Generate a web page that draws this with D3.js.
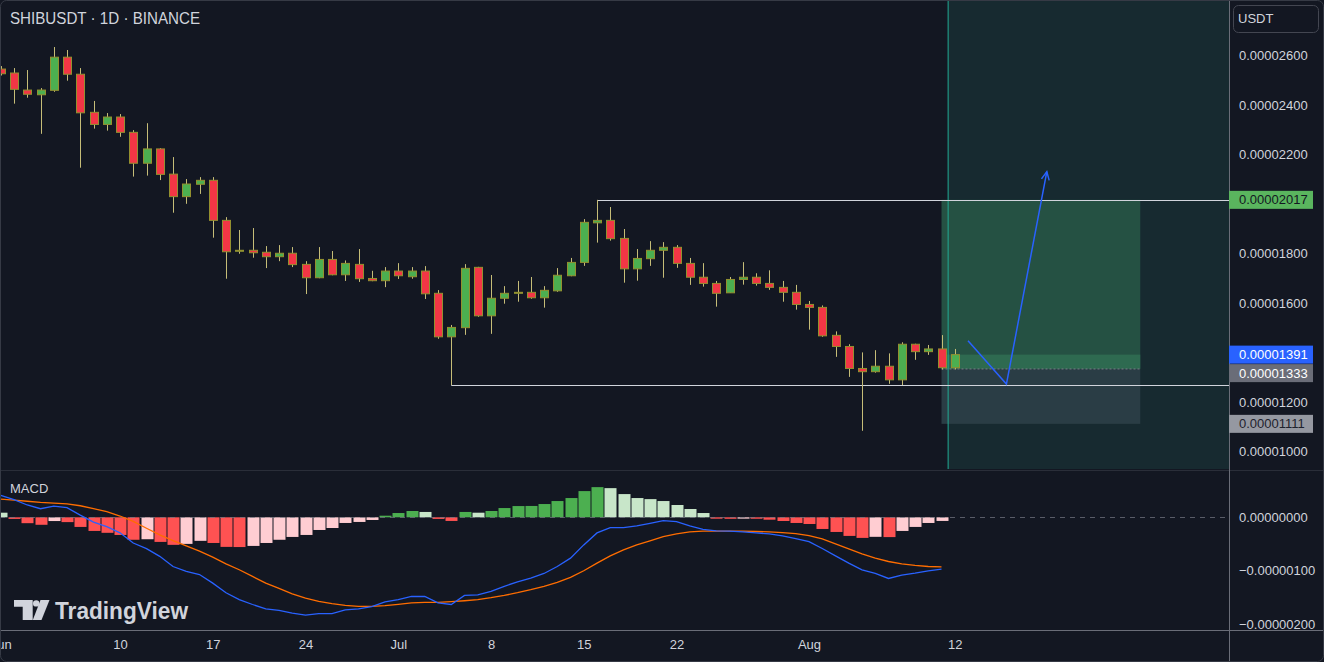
<!DOCTYPE html>
<html><head><meta charset="utf-8">
<script src="https://cdn.jsdelivr.net/npm/d3@7"></script>
<style>
html,body{margin:0;padding:0;background:#131722;overflow:hidden}
svg{display:block}
text{font-family:"Liberation Sans",Arial,sans-serif}
</style>
</head><body>
<svg id="chart" width="1324" height="662"></svg>
<script>
// ---------------- DATA (prices in millionths of USDT: 25.46 = 0.00002546) ----------------
const startDate = "2024-06-01";
const endDate = "2024-08-12";
const opens = [25.46,25.30,24.61,24.42,24.60,25.94,25.25,23.71,23.22,23.52,
  22.90,21.65,22.23,21.21,20.30,20.80,20.96,19.34,18.10,18.13,
  18.05,17.87,18.01,17.56,17.02,17.76,17.14,17.56,16.99,16.90,
  17.29,17.06,17.29,16.39,14.63,15.00,17.44,15.48,16.19,16.40,
  16.43,16.21,16.49,17.10,17.64,19.24,19.34,18.61,17.38,17.79,
  18.13,18.25,17.60,17.04,16.79,16.41,16.95,17.04,16.79,16.63,
  16.43,15.94,15.82,14.69,14.24,13.35,13.22,13.44,12.89,14.33,
  14.03,14.14,13.38];
const highs = [25.58,25.50,25.42,24.69,26.35,26.23,25.50,24.17,23.68,23.64,
  22.99,23.27,22.26,21.90,21.01,21.09,21.09,19.47,18.95,19.03,
  18.30,18.34,18.26,17.69,18.26,18.10,17.72,18.18,17.30,17.45,
  17.61,17.45,17.49,16.52,15.11,17.57,17.46,17.13,16.68,16.89,
  17.05,16.68,17.41,17.82,19.39,20.17,19.88,18.99,18.18,18.50,
  18.46,18.34,17.82,17.61,16.89,17.05,17.65,17.20,17.32,16.89,
  16.73,16.08,15.90,14.85,14.33,14.00,14.09,13.96,14.41,14.35,
  14.30,14.70,14.14];
const lows = [25.20,24.06,24.30,22.84,24.54,24.99,21.47,23.05,22.97,22.72,
  21.11,21.15,20.97,19.65,20.01,20.41,18.64,16.98,17.99,17.83,
  17.41,17.69,17.45,16.36,17.00,17.12,16.89,16.85,16.88,16.64,
  16.97,16.98,16.16,14.55,12.68,14.71,15.44,14.75,15.97,16.05,
  16.17,15.81,16.45,17.08,17.50,18.44,18.52,16.82,16.90,17.50,
  17.02,17.42,16.73,16.66,15.85,16.41,16.74,16.70,16.53,16.05,
  15.73,14.92,14.63,13.82,13.01,10.83,13.18,12.73,12.68,13.70,
  13.90,13.31,13.31];
const closes = [25.27,24.64,24.44,24.61,25.94,25.25,23.69,23.22,23.52,22.90,
  21.65,22.23,21.20,20.30,20.81,20.96,19.34,18.07,18.13,18.03,
  17.87,18.01,17.55,17.02,17.76,17.14,17.60,16.98,16.90,17.29,
  17.10,17.29,16.37,14.63,15.01,17.40,15.48,16.19,16.39,16.43,
  16.21,16.51,17.12,17.64,19.26,19.34,18.60,17.38,17.80,18.13,
  18.25,17.60,17.04,16.79,16.39,16.95,17.04,16.79,16.63,16.43,
  15.94,15.82,14.67,14.24,13.35,13.22,13.44,12.89,14.33,14.03,
  14.14,13.38,13.91];

// MACD (millionths), Jun 1 .. Aug 11
const macdLine = [0.41,0.33,0.23,0.16,0.21,0.18,0.04,-0.09,-0.175,-0.29,
  -0.48,-0.585,-0.73,-0.92,-1.01,-1.07,-1.23,-1.41,-1.54,-1.63,
  -1.71,-1.74,-1.79,-1.83,-1.80,-1.80,-1.73,-1.71,-1.67,-1.58,
  -1.54,-1.48,-1.48,-1.60,-1.63,-1.46,-1.45,-1.385,-1.29,-1.205,
  -1.136,-1.05,-0.92,-0.764,-0.516,-0.292,-0.193,-0.193,-0.162,-0.112,
  -0.063,-0.082,-0.162,-0.224,-0.255,-0.26,-0.274,-0.292,-0.31,-0.348,
  -0.398,-0.454,-0.584,-0.72,-0.857,-0.981,-1.05,-1.143,-1.08,-1.043,
  -1.0,-0.968];
const signalLine = [0.34,0.32,0.30,0.28,0.266,0.25,0.216,0.16,0.105,0.024,
  -0.075,-0.205,-0.33,-0.435,-0.534,-0.633,-0.745,-0.87,-0.98,-1.105,
  -1.23,-1.33,-1.43,-1.51,-1.57,-1.615,-1.646,-1.665,-1.665,-1.652,
  -1.627,-1.60,-1.59,-1.59,-1.577,-1.56,-1.54,-1.503,-1.46,-1.41,
  -1.354,-1.29,-1.218,-1.124,-1.0,-0.857,-0.72,-0.61,-0.516,-0.441,
  -0.36,-0.31,-0.274,-0.26,-0.26,-0.26,-0.26,-0.265,-0.274,-0.286,
  -0.305,-0.342,-0.404,-0.497,-0.59,-0.683,-0.764,-0.826,-0.87,-0.9,
  -0.92,-0.925];
const histogram = [0.086,-0.03,-0.11,-0.14,-0.07,-0.09,-0.18,-0.255,-0.29,-0.33,
  -0.42,-0.41,-0.46,-0.515,-0.497,-0.44,-0.48,-0.553,-0.556,-0.535,
  -0.48,-0.42,-0.367,-0.33,-0.237,-0.2,-0.106,-0.087,-0.05,0.03,
  0.08,0.118,0.1,-0.03,-0.068,0.1,0.086,0.118,0.173,0.21,
  0.212,0.248,0.304,0.36,0.49,0.564,0.545,0.434,0.36,0.34,
  0.304,0.23,0.155,0.08,-0.026,-0.028,-0.025,-0.027,-0.045,-0.069,
  -0.106,-0.125,-0.218,-0.274,-0.348,-0.385,-0.365,-0.37,-0.255,-0.18,
  -0.106,-0.068];

const priceTicks = [26, 24, 22, 18, 16, 12, 10];
const macdTicks = [0, -1, -2];
const timeTicks = ["2024-06-01","2024-06-10","2024-06-17","2024-06-24","2024-07-01","2024-07-08","2024-07-15","2024-07-22","2024-08-01","2024-08-12"];

// drawings (day offsets from startDate, price in millionths)
const rangeHigh = {fromDay: 45, price: 20.17};
const rangeLow = {fromDay: 34, price: 12.68};
const position = {startDay: 71, endDay: 86, entry: 13.33, target: 20.17, stop: 11.11, close: 13.91};
const sessionLineDay = 71.5;
const arrowPath = [[73, 14.47], [75.9, 12.72], [78.95, 21.31]];

// ---------------- LAYOUT ----------------
const W = 1324, H = 662;
const plotRight = 1229;
const mainBottom = 469, macdTop = 471, macdBottom = 630;
const svg = d3.select("#chart");
const DAY = 864e5;
const t0 = new Date(startDate + "T00:00:00Z");
const dates = d3.utcDay.range(t0, d3.utcDay.offset(new Date(endDate + "T00:00:00Z"), 1));

const x = d3.scaleUtc().domain([t0, d3.utcDay.offset(t0, 1)]).range([0.75, 14]);
const xd = d => x(new Date(+t0 + d * DAY));
const y = d3.scaleLinear().domain([10, 26]).range([451.3, 55.7]);
const ym = d3.scaleLinear().domain([-2, 0]).range([624.3, 517.3]);
const fmtP = v => (v * 1e-6).toFixed(8);

const candles = dates.map((d, i) => ({d, o: opens[i], h: highs[i], l: lows[i], c: closes[i]}));

// background
svg.append("rect").attr("width", W).attr("height", H).attr("fill", "#131722");

const defs = svg.append("defs");
defs.append("clipPath").attr("id", "mainClip").append("rect").attr("x", 0).attr("y", 0).attr("width", plotRight).attr("height", mainBottom);
defs.append("clipPath").attr("id", "macdClip").append("rect").attr("x", 0).attr("y", macdTop).attr("width", plotRight).attr("height", macdBottom - macdTop);

// ---------------- MAIN PANE ----------------
const main = svg.append("g").attr("clip-path", "url(#mainClip)");

// teal region right of session line
const xs = xd(sessionLineDay);
main.append("rect").attr("x", xs).attr("y", 0).attr("width", plotRight - xs).attr("height", mainBottom).attr("fill", "#172a30");

// position tool
const px0 = xd(position.startDay), px1 = xd(position.endDay);
main.append("rect").attr("x", px0).attr("width", px1 - px0)
  .attr("y", y(position.target)).attr("height", y(position.entry) - y(position.target)).attr("fill", "#255143");
main.append("rect").attr("x", px0).attr("width", px1 - px0)
  .attr("y", y(position.close)).attr("height", y(position.entry) - y(position.close)).attr("fill", "#2e6a50");
main.append("rect").attr("x", px0).attr("width", px1 - px0)
  .attr("y", y(position.entry)).attr("height", y(position.stop) - y(position.entry)).attr("fill", "#2a3d45");
main.append("line").attr("x1", px0).attr("x2", px1).attr("y1", y(position.entry)).attr("y2", y(position.entry))
  .attr("stroke", "#787b86").attr("stroke-dasharray", "2,2").attr("stroke-width", 1);

// session vertical line
main.append("line").attr("x1", xs).attr("x2", xs).attr("y1", 0).attr("y2", mainBottom)
  .attr("stroke", "#22ab94").attr("stroke-width", 1);

// horizontal range lines
[rangeHigh, rangeLow].forEach(r => {
  main.append("line").attr("x1", xd(r.fromDay)).attr("x2", plotRight)
    .attr("y1", Math.round(y(r.price)) + 0.5).attr("y2", Math.round(y(r.price)) + 0.5)
    .attr("stroke", "#d1d4dc").attr("stroke-width", 1);
});

// candles
const cg = main.append("g");
cg.selectAll("line.wick").data(candles).join("line").attr("class", "wick")
  .attr("x1", d => Math.round(x(d.d)) + 0.5).attr("x2", d => Math.round(x(d.d)) + 0.5)
  .attr("y1", d => y(d.h)).attr("y2", d => y(d.l))
  .attr("stroke", "#c6bd78").attr("stroke-width", 1);
cg.selectAll("rect.body").data(candles).join("rect").attr("class", "body")
  .attr("x", d => Math.round(x(d.d)) - 3.5).attr("width", 8)
  .attr("y", d => y(Math.max(d.o, d.c)))
  .attr("height", d => Math.max(1, Math.abs(y(d.o) - y(d.c))))
  .attr("fill", d => d.c >= d.o ? "#4caf50" : "#f23645")
  .attr("stroke", "#93902f").attr("stroke-width", 1);

// blue arrow
const ap = arrowPath.map(p => [xd(p[0]), y(p[1])]);
main.append("path").attr("d", d3.line()(ap)).attr("fill", "none").attr("stroke", "#2962ff").attr("stroke-width", 1.5);
{
  const [xa, ya] = ap[ap.length - 2], [xb, yb] = ap[ap.length - 1];
  const ang = Math.atan2(yb - ya, xb - xa), L = 9;
  const h1 = [xb - L * Math.cos(ang - 0.45), yb - L * Math.sin(ang - 0.45)];
  const h2 = [xb - L * Math.cos(ang + 0.45), yb - L * Math.sin(ang + 0.45)];
  main.append("path").attr("d", d3.line()([h1, [xb, yb], h2])).attr("fill", "none").attr("stroke", "#2962ff").attr("stroke-width", 1.5);
}

// title
svg.append("text").attr("x", 10).attr("y", 24).attr("fill", "#d1d4dc").attr("font-size", 16)
  .attr("textLength", 190).attr("lengthAdjust", "spacingAndGlyphs")
  .text("SHIBUSDT · 1D · BINANCE");

// ---------------- MACD PANE ----------------
const mg = svg.append("g").attr("clip-path", "url(#macdClip)");
const histColors = histogram.map((h, i) => {
  const prev = i === 0 ? 0.1 : histogram[i - 1];
  if (h >= 0) return h > prev ? "#4caf50" : "#c8e6c9";
  return h < prev ? "#ff5252" : "#ffcdd2";
});
mg.selectAll("rect.hist").data(histogram).join("rect").attr("class", "hist")
  .attr("x", (d, i) => Math.round(x(dates[i])) - 5.5).attr("width", 12)
  .attr("y", d => Math.min(ym(0), ym(d))).attr("height", d => Math.abs(ym(d) - ym(0)))
  .attr("fill", (d, i) => histColors[i]);
mg.append("line").attr("x1", 0).attr("x2", plotRight).attr("y1", Math.round(ym(0)) + 0.5).attr("y2", Math.round(ym(0)) + 0.5)
  .attr("stroke", "#787b86").attr("stroke-dasharray", "5,5").attr("stroke-opacity", 0.7);
const ml = d3.line().x((d, i) => x(dates[i])).y(d => ym(d));
mg.append("path").attr("d", ml(signalLine)).attr("fill", "none").attr("stroke", "#ff6d00").attr("stroke-width", 1.3);
mg.append("path").attr("d", ml(macdLine)).attr("fill", "none").attr("stroke", "#2962ff").attr("stroke-width", 1.3);
svg.append("text").attr("x", 10).attr("y", 493).attr("fill", "#d1d4dc").attr("font-size", 13).text("MACD");

// TradingView watermark
const wm = svg.append("g").attr("fill", "#d1d4dc");
wm.append("path").attr("d", "M14,600 H32.7 V620 H22.7 V606.7 H14 Z");
wm.append("circle").attr("cx", 36.2).attr("cy", 603.4).attr("r", 3.2);
wm.append("path").attr("d", "M40.5,600 H49.5 L41.5,620 H32.8 Z");
wm.append("text").attr("x", 55).attr("y", 618.5).attr("font-size", 24).attr("font-weight", 700)
  .attr("textLength", 133).attr("lengthAdjust", "spacingAndGlyphs").text("TradingView");

// ---------------- SEPARATORS ----------------
svg.append("line").attr("x1", 0).attr("x2", W).attr("y1", 470.5).attr("y2", 470.5).attr("stroke", "#2a2e39");
svg.append("line").attr("x1", plotRight + 0.5).attr("x2", plotRight + 0.5).attr("y1", 0).attr("y2", 662).attr("stroke", "#6a6d78");
svg.append("line").attr("x1", 0).attr("x2", W).attr("y1", 630.5).attr("y2", 630.5).attr("stroke", "#6a6d78");

// ---------------- AXES ----------------
const styleAxis = g => {
  g.select(".domain").remove();
  g.selectAll("line").remove();
  g.selectAll("text").attr("fill", "#d1d4dc").attr("font-size", 13).attr("font-family", "\"Liberation Sans\",Arial,sans-serif");
};
svg.append("g").attr("transform", `translate(${plotRight},0)`)
  .call(d3.axisRight(y).tickValues(priceTicks).tickFormat(fmtP).tickSize(0).tickPadding(10))
  .call(styleAxis);
svg.append("g").attr("transform", `translate(${plotRight},0)`)
  .call(d3.axisRight(ym).tickValues(macdTicks).tickFormat(v => v === 0 ? "0.00000000" : "\u2212" + fmtP(Math.abs(v))).tickSize(0).tickPadding(10))
  .call(styleAxis);
const monthNames = ["Jan","Feb","Mar","Apr","May","Jun","Jul","Aug","Sep","Oct","Nov","Dec"];
svg.append("g").attr("transform", `translate(0,${macdBottom})`)
  .call(d3.axisBottom(x).tickValues(timeTicks.map(s => new Date(s + "T00:00:00Z")))
    .tickFormat(d => d.getUTCDate() === 1 ? monthNames[d.getUTCMonth()] : String(d.getUTCDate()))
    .tickSize(0).tickPadding(10))
  .call(styleAxis);

// USDT box
svg.append("rect").attr("x", 1233.5).attr("y", 5.5).attr("width", 85).attr("height", 27).attr("rx", 5)
  .attr("fill", "#131722").attr("stroke", "#434651");
svg.append("text").attr("x", 1238).attr("y", 23).attr("fill", "#d1d4dc").attr("font-size", 13).text("USDT");

// price labels
const labelH = 18;
const labels = [
  {v: position.target, fill: "#5ab55e", color: "#131722"},
  {v: position.close, fill: "#2962ff", color: "#ffffff"},
  {v: position.entry, fill: "#6a6d78", color: "#ffffff"},
  {v: position.stop, fill: "#9598a1", color: "#1e222d"}
];
let prevBottom = -Infinity;
labels.sort((a, b) => b.v - a.v).forEach(lb => {
  let top = y(lb.v) - labelH / 2;
  if (top < prevBottom + 0.5) top = prevBottom + 0.5;
  prevBottom = top + labelH;
  svg.append("rect").attr("x", plotRight).attr("y", top).attr("width", 84).attr("height", labelH).attr("fill", lb.fill);
  svg.append("text").attr("x", 1239).attr("y", top + labelH / 2).attr("dy", "0.35em").attr("font-size", 13)
    .attr("fill", lb.color).text(fmtP(lb.v));
});

// outer frame
svg.append("rect").attr("x", 0.5).attr("y", 0.5).attr("width", W - 1).attr("height", H - 1).attr("rx", 6)
  .attr("fill", "none").attr("stroke", "#363a45");
</script>
</body></html>
